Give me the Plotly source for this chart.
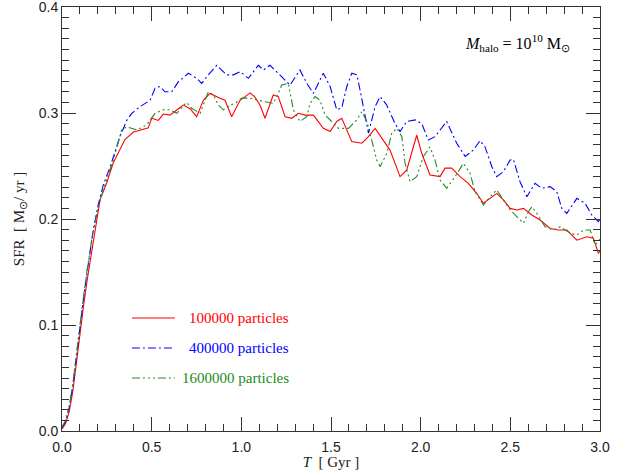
import plotly.graph_objects as go

# ---------------- data ----------------
t_red = [0, 0.02, 0.04, 0.06, 0.08, 0.1, 0.12, 0.14, 0.166, 0.19, 0.212, 0.249, 0.286, 0.351, 0.398, 0.44, 0.481, 0.50,
         0.537, 0.565, 0.602, 0.649, 0.677, 0.714, 0.751, 0.788, 0.825, 0.881, 0.909, 0.946, 0.993, 1.049, 1.076, 1.104,
         1.132, 1.178, 1.206, 1.244, 1.281, 1.318, 1.355, 1.402, 1.43, 1.457, 1.495, 1.532, 1.56, 1.588, 1.616, 1.672,
         1.709, 1.746, 1.783, 1.829, 1.885, 1.922, 1.978, 2.006, 2.052, 2.108, 2.136, 2.173, 2.22, 2.266, 2.313, 2.35,
         2.387, 2.424, 2.461, 2.499, 2.536, 2.573, 2.62, 2.666, 2.722, 2.768, 2.815, 2.871, 2.926, 2.963, 2.991, 3.0]
sfr_red = [0.002, 0.007, 0.018, 0.037, 0.064, 0.093, 0.118, 0.142, 0.171, 0.195, 0.218, 0.234, 0.253, 0.275, 0.282,
           0.284, 0.286, 0.295, 0.293, 0.299, 0.298, 0.304, 0.3075, 0.304, 0.2965, 0.312, 0.3185, 0.314, 0.312, 0.2965,
           0.312, 0.319, 0.315, 0.3075, 0.295, 0.317, 0.3155, 0.2965, 0.295, 0.2997, 0.298, 0.298, 0.292, 0.2855,
           0.2825, 0.292, 0.295, 0.284, 0.273, 0.2715, 0.2777, 0.2855, 0.276, 0.265, 0.24, 0.246, 0.279, 0.262, 0.2415,
           0.24, 0.248, 0.248, 0.24, 0.2337, 0.224, 0.2148, 0.2195, 0.2242, 0.218, 0.21, 0.2085, 0.21, 0.2038, 0.199,
           0.191, 0.1896, 0.1896, 0.18, 0.1833, 0.1818, 0.1676, 0.17]

t_blue = [0, 0.02, 0.04, 0.06, 0.08, 0.1, 0.12, 0.14, 0.175, 0.2, 0.23, 0.268, 0.323, 0.361, 0.389, 0.435, 0.491, 0.519,
          0.547, 0.574, 0.612, 0.649, 0.705, 0.751, 0.779, 0.816, 0.863, 0.918, 0.955, 0.993, 1.039, 1.095, 1.123, 1.16,
          1.206, 1.234, 1.272, 1.327, 1.365, 1.402, 1.457, 1.495, 1.532, 1.56, 1.588, 1.616, 1.644, 1.662, 1.681, 1.709,
          1.746, 1.774, 1.811, 1.857, 1.885, 1.922, 1.969, 2.006, 2.043, 2.08, 2.145, 2.201, 2.248, 2.294, 2.331, 2.359,
          2.397, 2.424, 2.461, 2.499, 2.517, 2.554, 2.592, 2.638, 2.675, 2.722, 2.759, 2.787, 2.815, 2.871, 2.917, 2.954,
          2.991, 3.0]
sfr_blue = [0.003, 0.009, 0.022, 0.042, 0.07, 0.1, 0.125, 0.15, 0.19, 0.212, 0.232, 0.249, 0.2777, 0.293, 0.2997, 0.306,
            0.312, 0.3233, 0.325, 0.32, 0.32, 0.3295, 0.3375, 0.3327, 0.328, 0.336, 0.345, 0.336, 0.336, 0.339, 0.3327,
            0.345, 0.3406, 0.345, 0.3375, 0.3327, 0.3264, 0.3406, 0.328, 0.3185, 0.3375, 0.325, 0.303, 0.305, 0.325,
            0.3375, 0.336, 0.3217, 0.306, 0.281, 0.306, 0.3155, 0.3075, 0.29, 0.2825, 0.292, 0.2935, 0.29, 0.2745,
            0.2777, 0.292, 0.2715, 0.259, 0.265, 0.274, 0.268, 0.2493, 0.24, 0.2446, 0.2557, 0.2563, 0.2352, 0.221,
            0.2337, 0.229, 0.2305, 0.2258, 0.21, 0.2053, 0.2195, 0.2148, 0.2038, 0.1975, 0.2]

t_green = [0, 0.02, 0.04, 0.06, 0.08, 0.1, 0.12, 0.14, 0.17, 0.2, 0.23, 0.286, 0.333, 0.361, 0.417, 0.472, 0.519, 0.565,
           0.602, 0.64, 0.695, 0.723, 0.77, 0.816, 0.844, 0.872, 0.9, 0.937, 0.965, 1.002, 1.049, 1.095, 1.141, 1.178,
           1.206, 1.225, 1.262, 1.29, 1.327, 1.365, 1.383, 1.411, 1.439, 1.467, 1.504, 1.541, 1.597, 1.644, 1.672, 1.7,
           1.727, 1.755, 1.774, 1.811, 1.839, 1.867, 1.895, 1.913, 1.941, 1.978, 2.015, 2.052, 2.08, 2.108, 2.145, 2.192,
           2.238, 2.276, 2.303, 2.35, 2.387, 2.424, 2.461, 2.499, 2.536, 2.573, 2.601, 2.62, 2.648, 2.694, 2.741, 2.778,
           2.834, 2.871, 2.908, 2.945, 2.973, 3.0]
sfr_green = [0.004, 0.01, 0.023, 0.044, 0.072, 0.101, 0.127, 0.152, 0.185, 0.21, 0.2274, 0.2557, 0.284, 0.287, 0.284,
             0.2887, 0.2997, 0.303, 0.303, 0.2997, 0.31, 0.3045, 0.2997, 0.32, 0.317, 0.3075, 0.303, 0.3075, 0.309,
             0.314, 0.314, 0.312, 0.3107, 0.309, 0.3185, 0.3264, 0.328, 0.303, 0.292, 0.2965, 0.309, 0.3155, 0.312,
             0.298, 0.292, 0.2855, 0.2855, 0.2935, 0.3012, 0.292, 0.2745, 0.2557, 0.2493, 0.262, 0.281, 0.2855, 0.2777,
             0.2525, 0.2352, 0.24, 0.259, 0.268, 0.2557, 0.2368, 0.229, 0.24, 0.2525, 0.2431, 0.2258, 0.2132, 0.221,
             0.2274, 0.218, 0.2085, 0.2022, 0.196, 0.2069, 0.2116, 0.2053, 0.1927, 0.1896, 0.1927, 0.1865, 0.1849,
             0.1896, 0.1896, 0.1755, 0.181]

labels = ["100000 particles", "400000 particles", "1600000 particles"]
colors = ["#ff0000", "#0000ff", "#228b22"]
dashes = ["solid", "8px,3px,2px,3px", "8px,3px,2px,3px,2px,3px,2px,3px"]

x_ticks = [0.0, 0.5, 1.0, 1.5, 2.0, 2.5, 3.0]
y_ticks = [0.0, 0.1, 0.2, 0.3, 0.4]

# ---------------- figure ----------------
fig = go.Figure()
series = [(t_red, sfr_red), (t_blue, sfr_blue), (t_green, sfr_green)]
for (tx, sy), lab, col, dsh in zip(series, labels, colors, dashes):
    fig.add_trace(go.Scatter(x=tx, y=sy, mode="lines", name=lab,
                             line=dict(color=col, width=1.1, dash=dsh), showlegend=False))

serif = "Liberation Serif, Times New Roman, serif"
sans = "Liberation Sans, Arial, sans-serif"

# legend drawn manually (IDL style)
leg_y = [0.2665, 0.1958, 0.125]
for lab, col, dsh, yy in zip(labels, colors, dashes, leg_y):
    fig.add_shape(type="line", xref="paper", yref="paper", x0=0.130, x1=0.210, y0=yy, y1=yy,
                  line=dict(color=col, width=1.1, dash=dsh))
    fig.add_annotation(xref="paper", yref="paper", x=0.4257, y=yy, text=lab, showarrow=False,
                       xanchor="right", yanchor="middle", font=dict(family=serif, size=15, color=col))

fig.add_annotation(xref="paper", yref="paper", x=0.948, y=0.915,
                   text="<i>M</i><sub>halo</sub> = 10<sup>10</sup> M<sub>⊙</sub>", showarrow=False,
                   xanchor="right", yanchor="middle", font=dict(family=serif, size=16, color="black"))

axis_common = dict(showgrid=False, zeroline=False, showline=True, linecolor="#333", linewidth=1,
                   mirror="allticks", ticks="inside", tickcolor="#333", tickwidth=1,
                   ticklabeloverflow="allow", automargin=False,
                   tickfont=dict(family=sans, size=14, color="#222"))

fig.update_xaxes(range=[0, 3.0], tickvals=x_ticks, ticktext=[f"{v:.1f}" for v in x_ticks], ticklen=14,
                 ticklabelstandoff=3,
                 minor=dict(dtick=0.1, ticklen=7, ticks="inside", tickcolor="#333", showgrid=False),
                 title=dict(text="<i>T</i>  [ Gyr ]", font=dict(family=serif, size=15, color="#222"), standoff=5),
                 **axis_common)
fig.update_yaxes(range=[0, 0.4], tickvals=y_ticks, ticktext=[f"{v:.1f}" for v in y_ticks], ticklen=14,
                 minor=dict(dtick=0.01, ticklen=7, ticks="inside", tickcolor="#333", showgrid=False),
                 title=dict(text="SFR  [ M<sub>⊙</sub>/ yr ]", font=dict(family=serif, size=15, color="#222"),
                            standoff=10),
                 **axis_common)

fig.update_layout(width=621, height=470, margin=dict(l=62, r=21, t=7, b=39),
                  paper_bgcolor="white", plot_bgcolor="white")

fig.write_html("out.html")
